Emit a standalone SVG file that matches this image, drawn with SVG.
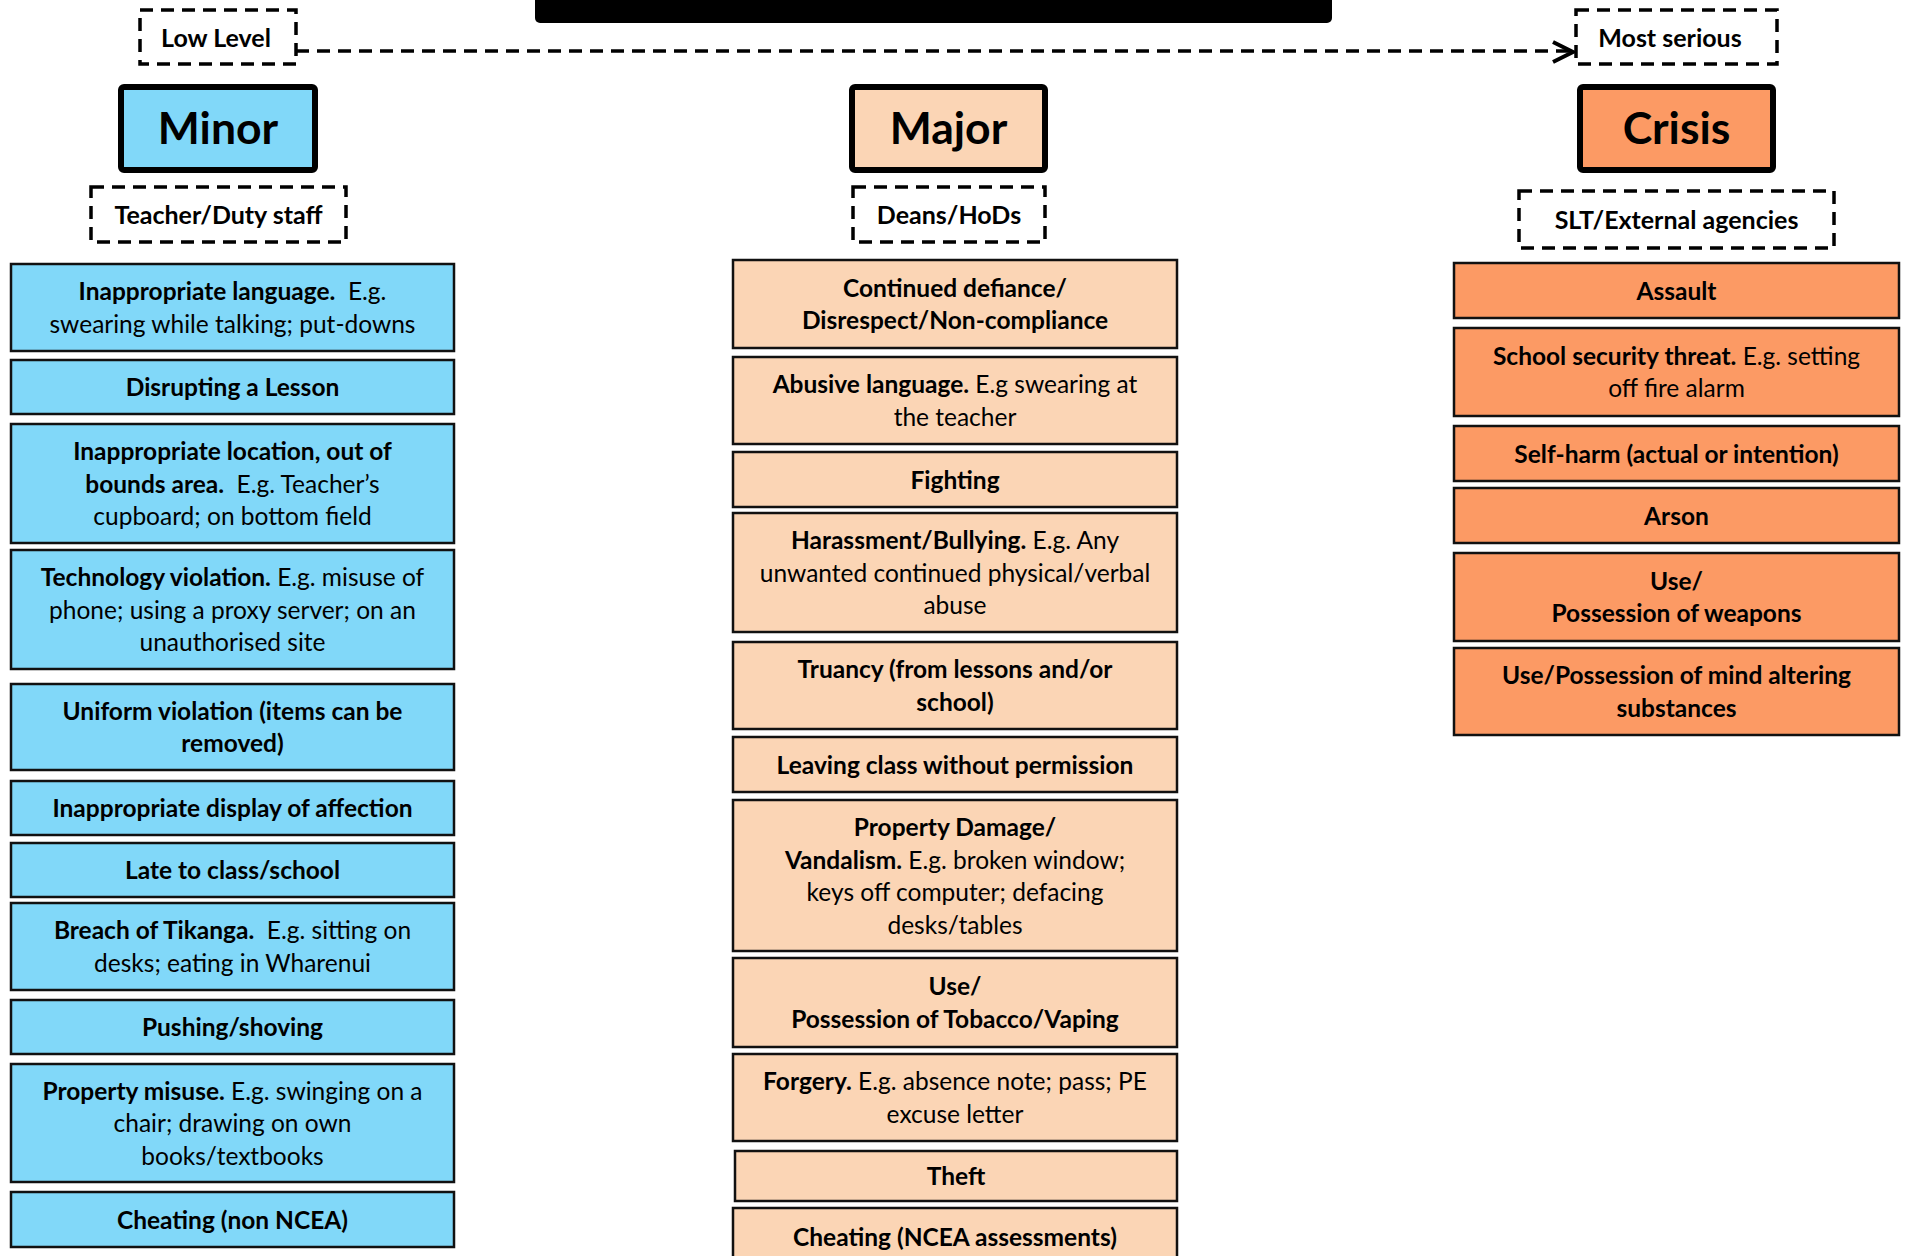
<svg xmlns="http://www.w3.org/2000/svg" width="1905" height="1256" viewBox="0 0 1905 1256">
<style>
text{font-family:Lato,"Open Sans","Liberation Sans",sans-serif;fill:#000;text-anchor:middle}
.t{font-size:24.5px}
.b{font-weight:bold}
.h{font-size:44.5px;font-weight:bold}
.lbl{font-size:25px;font-weight:bold}
.dash{fill:#fff;stroke:#000;stroke-width:3.5;stroke-dasharray:13 8}
.hd{stroke:#000;stroke-width:6}
.it{stroke:#111;stroke-width:2.5}
.mi{fill:#81D8F9}
.ma{fill:#FBD5B5}
.cr{fill:#FC9A64}
</style>
<rect width="1905" height="1256" fill="#fff"/>
<g id="topbar"><rect x="535" y="-8" width="797" height="31" rx="5" fill="#000"/></g>
<g id="connectors">
<line x1="296" y1="51" x2="1570" y2="51" stroke="#000" stroke-width="3.5" stroke-dasharray="13 8"/>
<polyline points="1553,42 1573,52 1553,62" fill="none" stroke="#000" stroke-width="4"/>
</g>
<g id="low-level"><rect class="dash" x="140" y="10" width="156" height="54"/><text class="lbl" x="216" y="47">Low Level</text></g>
<g id="most-serious"><rect class="dash" x="1576" y="10" width="201" height="54"/><text class="lbl" x="1670" y="47">Most serious</text></g>
<g id="minor"><rect class="hd mi" x="121" y="87" width="194" height="83" rx="3"/><text class="h" x="218" y="144">Minor</text></g>
<g id="major"><rect class="hd ma" x="852" y="87" width="193" height="83" rx="3"/><text class="h" x="948.5" y="144">Major</text></g>
<g id="crisis"><rect class="hd cr" x="1580" y="87" width="193" height="83" rx="3"/><text class="h" x="1676.5" y="144">Crisis</text></g>
<g id="teacher"><rect class="dash" x="91" y="187" width="255" height="55"/><text class="lbl" x="218.5" y="224">Teacher/Duty staff</text></g>
<g id="deans"><rect class="dash" x="853" y="187" width="192" height="55"/><text class="lbl" x="949" y="224">Deans/HoDs</text></g>
<g id="slt"><rect class="dash" x="1519" y="191" width="315" height="57"/><text class="lbl" x="1676.5" y="229">SLT/External agencies</text></g>

<g id="minor-1"><rect class="it mi" x="11" y="264" width="443" height="87"/><text class="t" x="232.5" y="300"><tspan class="b">Inappropriate language.</tspan>&#160; E.g.</text><text class="t" x="232.5" y="333">swearing while talking; put-downs</text></g>
<g id="minor-2"><rect class="it mi" x="11" y="360" width="443" height="54"/><text class="t b" x="232.5" y="396">Disrupting a Lesson</text></g>
<g id="minor-3"><rect class="it mi" x="11" y="424" width="443" height="119"/><text class="t b" x="232.5" y="460">Inappropriate location, out of</text><text class="t" x="232.5" y="492.5"><tspan class="b">bounds area.</tspan>&#160; E.g. Teacher’s</text><text class="t" x="232.5" y="525">cupboard; on bottom field</text></g>
<g id="minor-4"><rect class="it mi" x="11" y="550" width="443" height="119"/><text class="t" x="232.5" y="586"><tspan class="b">Technology violation.</tspan> E.g. misuse of</text><text class="t" x="232.5" y="618.5">phone; using a proxy server; on an</text><text class="t" x="232.5" y="651">unauthorised site</text></g>
<g id="minor-5"><rect class="it mi" x="11" y="684" width="443" height="86"/><text class="t b" x="232.5" y="720">Uniform violation (items can be</text><text class="t b" x="232.5" y="752">removed)</text></g>
<g id="minor-6"><rect class="it mi" x="11" y="781" width="443" height="54"/><text class="t b" x="232.5" y="817">Inappropriate display of affection</text></g>
<g id="minor-7"><rect class="it mi" x="11" y="843" width="443" height="54"/><text class="t b" x="232.5" y="879">Late to class/school</text></g>
<g id="minor-8"><rect class="it mi" x="11" y="903" width="443" height="87"/><text class="t" x="232.5" y="939"><tspan class="b">Breach of Tikanga.</tspan>&#160; E.g. sitting on</text><text class="t" x="232.5" y="972">desks; eating in Wharenui</text></g>
<g id="minor-9"><rect class="it mi" x="11" y="1000" width="443" height="54"/><text class="t b" x="232.5" y="1036">Pushing/shoving</text></g>
<g id="minor-10"><rect class="it mi" x="11" y="1064" width="443" height="118"/><text class="t" x="232.5" y="1099.5"><tspan class="b">Property misuse.</tspan> E.g. swinging on a</text><text class="t" x="232.5" y="1132">chair; drawing on own</text><text class="t" x="232.5" y="1164.5">books/textbooks</text></g>
<g id="minor-11"><rect class="it mi" x="11" y="1192" width="443" height="55"/><text class="t b" x="232.5" y="1228.5">Cheating (non NCEA)</text></g>

<g id="major-1"><rect class="it ma" x="733" y="260" width="444" height="88"/><text class="t b" x="955" y="297">Continued defiance/</text><text class="t b" x="955" y="329">Disrespect/Non-compliance</text></g>
<g id="major-2"><rect class="it ma" x="733" y="357" width="444" height="87"/><text class="t" x="955" y="393"><tspan class="b">Abusive language.</tspan> E.g swearing at</text><text class="t" x="955" y="426">the teacher</text></g>
<g id="major-3"><rect class="it ma" x="733" y="452" width="444" height="55"/><text class="t b" x="955" y="488.5">Fighting</text></g>
<g id="major-4"><rect class="it ma" x="733" y="513" width="444" height="119"/><text class="t" x="955" y="549"><tspan class="b">Harassment/Bullying.</tspan> E.g. Any</text><text class="t" x="955" y="581.5">unwanted continued physical/verbal</text><text class="t" x="955" y="614">abuse</text></g>
<g id="major-5"><rect class="it ma" x="733" y="642" width="444" height="87"/><text class="t b" x="955" y="678">Truancy (from lessons and/or</text><text class="t b" x="955" y="711">school)</text></g>
<g id="major-6"><rect class="it ma" x="733" y="737" width="444" height="55"/><text class="t b" x="955" y="773.5">Leaving class without permission</text></g>
<g id="major-7"><rect class="it ma" x="733" y="800" width="444" height="151"/><text class="t b" x="955" y="836">Property Damage/</text><text class="t" x="955" y="868.5"><tspan class="b">Vandalism.</tspan> E.g. broken window;</text><text class="t" x="955" y="901">keys off computer; defacing</text><text class="t" x="955" y="933.5">desks/tables</text></g>
<g id="major-8"><rect class="it ma" x="733" y="958" width="444" height="89"/><text class="t b" x="955" y="995">Use/</text><text class="t b" x="955" y="1028">Possession of Tobacco/Vaping</text></g>
<g id="major-9"><rect class="it ma" x="733" y="1054" width="444" height="87"/><text class="t" x="955" y="1090"><tspan class="b">Forgery.</tspan> E.g. absence note; pass; PE</text><text class="t" x="955" y="1123">excuse letter</text></g>
<g id="major-10"><rect class="it ma" x="735" y="1151" width="442" height="50"/><text class="t b" x="956" y="1185">Theft</text></g>
<g id="major-11"><rect class="it ma" x="733" y="1208" width="444" height="56"/><text class="t b" x="955" y="1246">Cheating (NCEA assessments)</text></g>

<g id="crisis-1"><rect class="it cr" x="1454" y="263" width="445" height="55"/><text class="t b" x="1676.5" y="299.5">Assault</text></g>
<g id="crisis-2"><rect class="it cr" x="1454" y="328" width="445" height="88"/><text class="t" x="1676.5" y="365"><tspan class="b">School security threat.</tspan> E.g. setting</text><text class="t" x="1676.5" y="397">off fire alarm</text></g>
<g id="crisis-3"><rect class="it cr" x="1454" y="426" width="445" height="55"/><text class="t b" x="1676.5" y="462.5">Self-harm (actual or intention)</text></g>
<g id="crisis-4"><rect class="it cr" x="1454" y="488" width="445" height="55"/><text class="t b" x="1676.5" y="524.5">Arson</text></g>
<g id="crisis-5"><rect class="it cr" x="1454" y="553" width="445" height="88"/><text class="t b" x="1676.5" y="590">Use/</text><text class="t b" x="1676.5" y="622">Possession of weapons</text></g>
<g id="crisis-6"><rect class="it cr" x="1454" y="648" width="445" height="87"/><text class="t b" x="1676.5" y="684">Use/Possession of mind altering</text><text class="t b" x="1676.5" y="717">substances</text></g>
</svg>
